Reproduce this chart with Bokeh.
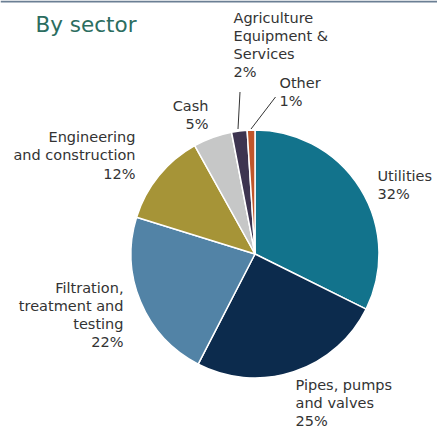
import math
from bokeh.plotting import figure
from bokeh.models import ColumnDataSource, Range1d
from bokeh.core.properties import value
from bokeh.embed import file_html
from bokeh.resources import INLINE

# ---- data ----
sectors = ["Utilities", "Pipes, pumps\nand valves", "Filtration,\ntreatment and\ntesting",
           "Engineering\nand construction", "Cash", "Agriculture\nEquipment &\nServices", "Other"]
shares = [32, 25, 22, 12, 5, 2, 1]
colors = ["#12738c", "#0c2b4d", "#5283a6", "#a69437", "#c6c7c7", "#3d3450", "#c0562a"]
title = "By sector"

# ---- layout (pixel coordinates, y measured from top) ----
W, H = 437, 430
CX, CY, R = 254.5, 253.5, 124
label_pos = [  # (x, first line center y, align)
    (377, 175, "left"),
    (295, 384, "left"),
    (123, 287, "right"),
    (135, 136.5, "right"),
    (208, 105, "right"),
    (233, 17, "left"),
    (279, 82.5, "left"),
]
LINE_H = 18.3
leaders = {5: ((239.5, 91.5), (237.5, 128.5)), 6: ((275, 96.5), (250.5, 128.5))}

p = figure(width=W, height=H, output_backend="svg", toolbar_location=None,
           x_range=Range1d(0, W), y_range=Range1d(0, H), min_border=0)
p.axis.visible = False
p.grid.visible = False
p.outline_line_color = None
p.background_fill_color = "white"

total = float(sum(shares))
starts, ends = [], []
cum = 0.0
for v in shares:
    a0 = math.pi / 2 - 2 * math.pi * cum / total
    cum += v
    a1 = math.pi / 2 - 2 * math.pi * cum / total
    starts.append(a1)
    ends.append(a0)

src = ColumnDataSource(dict(start=starts, end=ends, color=colors))
p.wedge(x=CX, y=H - CY, radius=R, start_angle="start", end_angle="end",
        fill_color="color", line_color="white", line_width=1.5, source=src)

# labels
tx, ty, tt, ta = [], [], [], []
for i, (name, v) in enumerate(zip(sectors, shares)):
    lines = name.split("\n") + [f"{v}%"]
    x, y0, al = label_pos[i]
    for k, ln in enumerate(lines):
        tx.append(x)
        ty.append(H - (y0 + k * LINE_H))
        tt.append(ln)
        ta.append(al)
lsrc = ColumnDataSource(dict(x=tx, y=ty, text=tt, align=ta))
p.text(x="x", y="y", text="text", text_align="align", text_baseline="middle",
       text_font=value("DejaVu Sans"), text_font_size="14.5px", text_color="#333333",
       source=lsrc)

# leader lines
for i, ((x0, y0), (x1, y1)) in leaders.items():
    p.line([x0, x1], [H - y0, H - y1], line_color="#333333", line_width=1)

# title
p.text(x=[35], y=[H - 24], text=[title], text_align="left", text_baseline="middle",
       text_font=value("DejaVu Sans"), text_font_size="21.5px", text_color="#2b6d60")

# top rule
p.line([0, W], [H - 1, H - 1], line_color="#6b7f94", line_width=2)

open("out.html", "w").write(file_html(p, INLINE))
